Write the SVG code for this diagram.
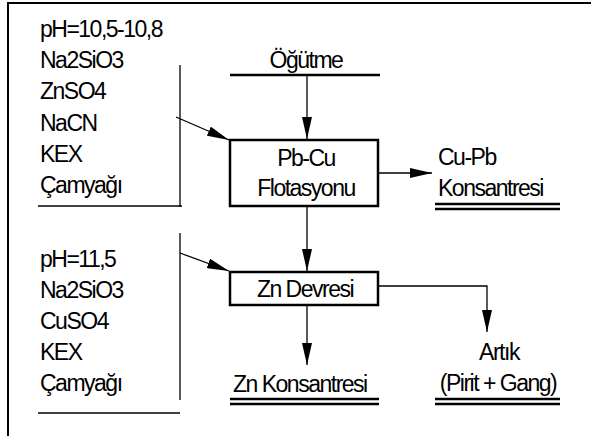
<svg xmlns="http://www.w3.org/2000/svg" width="591" height="436" viewBox="0 0 591 436">
<defs>
<style>
text{font-family:"Liberation Sans",Arial,sans-serif;font-size:23px;letter-spacing:-1.5px;fill:#000}
.c{text-anchor:middle}
.ln{stroke:#000;stroke-width:1.3;fill:none}
.thk{stroke:#000;stroke-width:2.5;fill:none}
.box{stroke:#000;stroke-width:2.5;fill:#fff}
</style>
<marker id="ah" viewBox="0 0 22 10" refX="22" refY="5" markerWidth="22" markerHeight="10" markerUnits="userSpaceOnUse" orient="auto">
<path d="M0,0 L22,5 L0,10 Z" fill="#000"/>
</marker>
</defs>
<rect width="591" height="436" fill="#fff"/>
<rect x="8" y="3" width="620" height="470" fill="none" stroke="#000" stroke-width="2"/>

<g id="reagents1">
<text x="40" y="37">pH=10,5-10,8</text>
<text x="40" y="68">Na2SiO3</text>
<text x="40" y="99">ZnSO4</text>
<text x="40" y="131">NaCN</text>
<text x="40" y="162">KEX</text>
<text x="40" y="193">Çamyağı</text>
<line class="ln" x1="180" y1="65" x2="180" y2="207"/>
<line class="ln" x1="38" y1="206" x2="182" y2="206"/>
</g>

<g id="reagents2">
<text x="40" y="267">pH=11,5</text>
<text x="40" y="298">Na2SiO3</text>
<text x="40" y="329">CuSO4</text>
<text x="40" y="360">KEX</text>
<text x="40" y="391">Çamyağı</text>
<line class="ln" x1="180" y1="233" x2="180" y2="400"/>
<line class="ln" x1="38" y1="413" x2="180" y2="413"/>
</g>

<g id="ogutme">
<text class="c" x="306" y="68">Öğütme</text>
<line class="thk" x1="230" y1="75" x2="380" y2="75"/>
</g>

<g id="pbcu">
<rect class="box" x="230" y="140" width="148" height="66"/>
<text class="c" x="306" y="166">Pb-Cu</text>
<text class="c" x="306" y="196">Flotasyonu</text>
</g>

<g id="cupb">
<text x="438" y="165">Cu-Pb</text>
<text x="438" y="196">Konsantresi</text>
<line class="thk" x1="435" y1="204" x2="560" y2="204"/>
<line class="thk" x1="435" y1="209" x2="560" y2="209"/>
</g>

<g id="zndevresi">
<rect class="box" x="230" y="272" width="148" height="33"/>
<text class="c" x="305" y="297">Zn Devresi</text>
</g>

<g id="znkons">
<text x="233" y="392">Zn Konsantresi</text>
<line class="thk" x1="230" y1="399" x2="379" y2="399"/>
<line class="thk" x1="230" y1="404" x2="379" y2="404"/>
</g>

<g id="artik">
<text class="c" x="499" y="360">Artık</text>
<text class="c" x="498" y="391">(Pirit + Gang)</text>
<line class="thk" x1="435" y1="399" x2="560" y2="399"/>
<line class="thk" x1="435" y1="404" x2="560" y2="404"/>
</g>

<g id="connectors">
<line class="ln" x1="307" y1="76" x2="307" y2="139" marker-end="url(#ah)"/>
<line class="ln" x1="176" y1="117" x2="229" y2="140" marker-end="url(#ah)"/>
<line class="ln" x1="379" y1="173" x2="432" y2="173" marker-end="url(#ah)"/>
<line class="ln" x1="307" y1="207" x2="307" y2="271" marker-end="url(#ah)"/>
<line class="ln" x1="180" y1="253" x2="229" y2="271" marker-end="url(#ah)"/>
<polyline class="ln" points="379,286 487,286 487,332" marker-end="url(#ah)"/>
<line class="ln" x1="307" y1="306" x2="307" y2="365" marker-end="url(#ah)"/>
</g>
</svg>
